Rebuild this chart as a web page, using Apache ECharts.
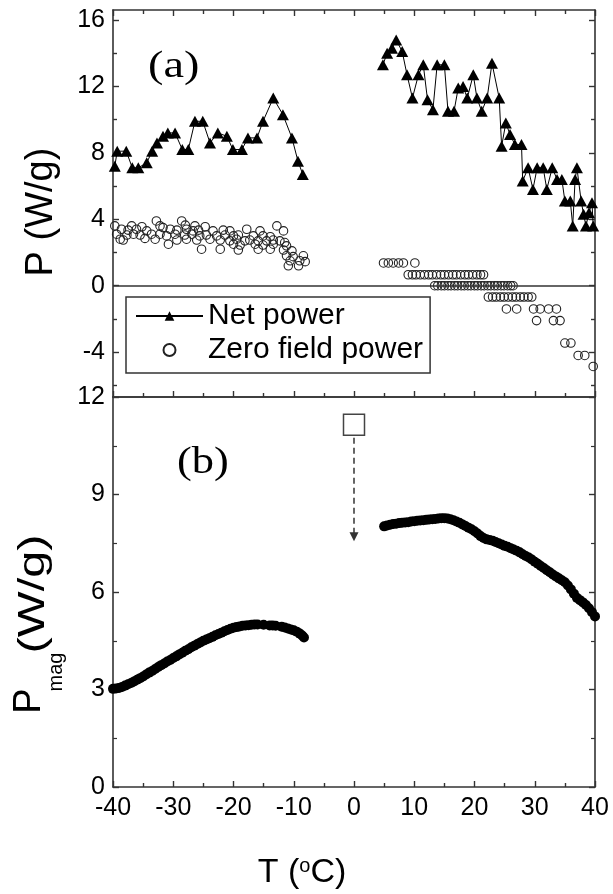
<!DOCTYPE html>
<html><head><meta charset="utf-8">
<script src="https://cdn.jsdelivr.net/npm/echarts@6/dist/echarts.min.js"></script>
<style>html,body{margin:0;padding:0;background:#fff}#c{width:613px;height:894px}</style>
</head><body><div id="c"></div>
<script>
// ---------- data ----------
const xMajorTicks = [-40, -30, -20, -10, 0, 10, 20, 30, 40];
const xMinorTicks = [-35, -25, -15, -5, 5, 15, 25, 35];
const aMajorTicks = [-4, 0, 4, 8, 12, 16];
const aMinorTicks = [-6, -2, 2, 6, 10, 14];

const netT1 = [-39.7,-39.3,-37.8,-36.8,-35.8,-34.4,-33.5,-32.7,-31.7,-30.9,-29.7,-28.5,-27.5,-26.4,-25.1,-23.9,-22.6,-21.1,-20.1,-18.6,-17.6,-16.1,-15.1,-13.4,-11.8,-10.3,-9.3,-8.5];
const netP1 = [7.2,8.1,8.1,7.1,7.1,7.4,8.1,8.6,9.0,9.2,9.2,8.2,8.2,9.9,9.9,8.6,9.2,9.0,8.2,8.2,8.9,8.9,9.9,11.3,10.3,8.9,7.5,6.7];
const netT2 = [4.8,5.5,6.3,7.0,8.0,8.8,9.7,10.7,11.5,12.2,13.1,13.8,15.0,15.6,16.6,17.3,18.1,18.8,19.8,20.4,21.2,22.1,22.9,24.1,24.5,25.2,25.9,26.7,27.8,28.0,28.9,29.7,30.4,31.4,32.0,32.9,33.7,34.5,35.0,35.9,36.3,36.7,37.0,37.7,38.1,38.5,39.0,39.5,39.7];
const netP2 = [13.3,14.0,14.3,14.8,14.1,12.7,11.3,12.7,13.3,11.2,10.6,13.3,13.3,10.5,10.5,11.9,12.0,11.3,12.7,11.3,10.5,11.3,13.4,11.3,8.4,9.8,9.1,8.5,8.5,6.3,7.1,5.8,7.1,7.1,5.8,7.1,6.4,6.4,5.1,5.1,3.6,6.4,7.1,5.1,4.3,3.6,4.4,5.0,3.6];

const zfT1 = [-32.8,-28.6,-39.7,-36.9,-35.2,-32.2,-31.7,-28.0,-26.4,-24.7,-12.8,
  -38.6,-37.5,-36.1,-34.4,-30.5,-29.4,-27.8,-26.7,-25.8,-23.4,-21.7,-20.6,-17.8,-15.6,-11.7,
  -39.4,-37.7,-36.6,-35.5,-33.6,-32.2,-31.1,-29.7,-28.1,-26.9,-25.6,-24.5,-22.8,-21.4,-20.0,-19.2,-16.7,-15.1,-13.9,
  -38.8,-38.3,-34.7,-33.0,-29.4,-27.8,-26.1,-23.9,-22.2,-20.6,-19.5,-18.1,-17.3,-15.9,-14.5,-13.4,-12.3,-11.5,
  -30.8,-20.0,-18.9,-16.4,-15.1,-13.4,-11.2,
  -25.3,-22.2,-19.2,-15.9,-13.9,-11.7,-10.3,
  -11.2,-10.1,-8.4,-10.6,-9.0,-8.1,-10.9,-9.2];
const zfP1 = [3.9,3.9,3.6,3.6,3.55,3.6,3.5,3.65,3.6,3.55,3.6,
  3.4,3.35,3.4,3.3,3.4,3.35,3.4,3.3,3.35,3.3,3.35,3.3,3.4,3.3,3.3,
  3.1,3.05,3.1,3.05,3.1,3.1,3.0,3.1,3.05,3.1,3.0,3.05,3.0,3.05,3.0,3.05,3.0,3.0,2.95,
  2.8,2.75,2.85,2.8,2.75,2.8,2.75,2.8,2.75,2.7,2.8,2.7,2.75,2.7,2.7,2.75,2.7,2.6,
  2.5,2.5,2.45,2.5,2.45,2.5,2.4,
  2.2,2.2,2.15,2.2,2.2,2.15,2.1,
  1.8,1.75,1.8,1.5,1.5,1.45,1.2,1.2];
const zfT2 = [4.9,5.7,6.5,7.4,8.2,10.1,
  9.0,9.7,10.3,11.0,11.7,12.4,13.0,13.7,14.4,15.0,15.7,16.4,17.0,17.7,18.4,19.0,19.7,20.4,21.0,21.5,
  13.4,13.9,14.5,15.0,15.6,16.1,16.7,17.2,17.8,18.3,18.9,19.4,20.0,20.5,21.1,21.6,22.2,22.7,23.3,23.8,24.4,24.9,25.5,26.0,26.4,
  22.3,23.0,23.6,24.3,24.9,25.6,26.3,26.9,27.6,28.2,28.9,29.5,
  25.3,27.0,29.8,30.9,32.3,33.6,
  30.3,33.1,34.2,35.0,36.0,37.2,38.3,39.7];
const zfP2 = [1.37,1.37,1.37,1.37,1.37,1.37,
  0.66,0.66,0.66,0.66,0.66,0.66,0.66,0.66,0.66,0.66,0.66,0.66,0.66,0.66,0.66,0.66,0.66,0.66,0.66,0.66,
  0,0,0,0,0,0,0,0,0,0,0,0,0,0,0,0,0,0,0,0,0,0,0,0,0,
  -0.68,-0.68,-0.68,-0.68,-0.68,-0.68,-0.68,-0.68,-0.68,-0.68,-0.68,-0.68,
  -1.4,-1.4,-1.4,-1.4,-1.4,-1.4,
  -2.1,-2.1,-2.1,-3.45,-3.45,-4.2,-4.2,-4.86];

const magT1 = [-40,-39.5,-39,-38.5,-38,-37.5,-37,-36.5,-36,-35.5,-35,-34.5,-34,-33.5,-33,-32.5,-32,-31.5,-31,-30.5,-30,-29.5,-29,-28.5,-28,-27.5,-27,-26.5,-26,-25.5,-25,-24.5,-24,-23.5,-23,-22.5,-22,-21.5,-21,-20.5,-20,-19.5,-19,-18.5,-18,-17.5,-17,-16.5,-16,-15,-14,-13.5,-13,-12,-11.5,-11,-10.5,-10,-9.5,-9,-8.6,-8.3];
const magP1 = [3.02,3.03,3.05,3.08,3.12,3.16,3.2,3.25,3.3,3.35,3.4,3.46,3.52,3.57,3.63,3.69,3.75,3.8,3.86,3.91,3.97,4.02,4.08,4.13,4.19,4.24,4.3,4.35,4.4,4.45,4.5,4.54,4.58,4.62,4.67,4.71,4.75,4.79,4.83,4.87,4.9,4.92,4.94,4.96,4.97,4.98,4.99,5.0,5.0,4.99,4.97,4.97,4.96,4.93,4.91,4.88,4.85,4.82,4.78,4.72,4.66,4.6];
const magT2 = [5,5.5,6,6.5,7,7.5,8,8.5,9,9.5,10,10.5,11,11.5,12,12.5,13,13.5,14,14.5,15,15.5,16,16.5,17,17.5,18,18.5,19,19.5,20,20.5,21,21.5,22,22.5,23,23.5,24,24.5,25,25.5,26,26.5,27,27.5,28,28.5,29,29.5,30,30.5,31,31.5,32,32.5,33,33.5,34,34.5,35,35.5,36,36.5,37,37.5,38,38.5,39,39.5,40];
const magP2 = [8.02,8.05,8.07,8.09,8.1,8.12,8.13,8.14,8.15,8.17,8.18,8.19,8.2,8.21,8.22,8.23,8.24,8.25,8.26,8.27,8.27,8.26,8.24,8.21,8.17,8.13,8.08,8.03,7.98,7.93,7.87,7.8,7.72,7.66,7.62,7.6,7.58,7.54,7.5,7.46,7.42,7.39,7.35,7.31,7.27,7.22,7.16,7.11,7.06,7.0,6.93,6.87,6.8,6.74,6.67,6.61,6.54,6.48,6.42,6.36,6.3,6.2,6.08,5.95,5.82,5.75,5.68,5.6,5.5,5.38,5.25];

const squareT = [0], squareP = [11.15];
const arrowFrom = [0, 10.75], arrowTo = [0, 7.7];

const zip = (a, b) => a.map((v, i) => [v, b[i]]);

// ---------- chart ----------
const AX = '#333';
const FONT = '"Liberation Sans", Arial, sans-serif';
const chart = echarts.init(document.getElementById('c'), null, {renderer: 'canvas'});

function axLine(show) { return {show: show, onZero: false, lineStyle: {color: AX, width: 1.6}}; }
function xAx(grid, pos, vals, len, labels, line) {
  return {
    type: 'value', gridIndex: grid, position: pos, min: -40, max: 40,
    axisLine: axLine(line),
    axisTick: {show: vals.length > 0, inside: true, length: len, customValues: vals.length ? vals : undefined,
      lineStyle: {color: AX, width: 1.4}},
    axisLabel: {show: labels, customValues: xMajorTicks, fontSize: 25, color: '#000', fontFamily: FONT, margin: 9},
    splitLine: {show: false}
  };
}
function yA(pos, vals, len, labels, line) {
  return {
    type: 'value', gridIndex: 0, position: pos, min: -6.7, max: 16.6,
    axisLine: axLine(line),
    axisTick: {show: true, inside: true, length: len, customValues: vals, lineStyle: {color: AX, width: 1.4}},
    axisLabel: {show: labels, customValues: vals, fontSize: 25, color: '#000', fontFamily: FONT, margin: 8},
    splitLine: {show: false}
  };
}
function yB(pos, labels) {
  return {
    type: 'value', gridIndex: 1, position: pos, min: 0, max: 12, interval: 3,
    axisLine: axLine(true),
    axisTick: {show: true, inside: true, length: 6, lineStyle: {color: AX, width: 1.4}},
    minorTick: {show: true, splitNumber: 2, length: 4, lineStyle: {color: AX, width: 1.2}},
    axisLabel: {show: labels, fontSize: 25, color: '#000', fontFamily: FONT, margin: 8},
    splitLine: {show: false}
  };
}

const option = {
  backgroundColor: '#fff',
  animation: false,
  grid: [
    {left: 113, top: 10, width: 482, height: 387},
    {left: 113, top: 397, width: 482, height: 390}
  ],
  xAxis: [
    xAx(0, 'bottom', xMajorTicks, 6, false, true),
    xAx(0, 'bottom', xMinorTicks, 4, false, false),
    xAx(0, 'top', xMajorTicks, 6, false, true),
    xAx(0, 'top', xMinorTicks, 4, false, false),
    xAx(1, 'bottom', xMajorTicks, 6, true, true),
    xAx(1, 'bottom', xMinorTicks, 4, false, false),
    xAx(1, 'top', [], 0, false, true)
  ],
  yAxis: [
    yA('left', aMajorTicks, 6, true, true),
    yA('left', aMinorTicks, 4, false, false),
    yA('right', aMajorTicks, 6, false, true),
    yA('right', aMinorTicks, 4, false, false),
    yB('left', true),
    yB('right', false)
  ],
  legend: {
    orient: 'vertical', left: 126, top: 297,
    padding: [4, 7, 8, 9], itemGap: 4, itemWidth: 67, itemHeight: 12,
    borderColor: AX, borderWidth: 1.5, selectedMode: false,
    textStyle: {fontSize: 30, color: '#000', fontFamily: FONT, lineHeight: 30},
    data: ['Net power', 'Zero field power']
  },
  series: [
    {name: 'Net power', type: 'line', xAxisIndex: 0, yAxisIndex: 0, data: zip(netT1, netP1),
      symbol: 'triangle', symbolSize: [12, 11], itemStyle: {color: '#000', opacity: 1},
      lineStyle: {color: '#000', width: 1}, z: 3},
    {name: 'Net power', type: 'line', xAxisIndex: 0, yAxisIndex: 0, data: zip(netT2, netP2),
      symbol: 'triangle', symbolSize: [12, 11], itemStyle: {color: '#000', opacity: 1},
      lineStyle: {color: '#000', width: 1}, z: 3},
    {name: 'Zero field power', type: 'scatter', xAxisIndex: 0, yAxisIndex: 0,
      data: zip(zfT1, zfP1).concat(zip(zfT2, zfP2)),
      symbol: 'circle', symbolSize: 8.5,
      itemStyle: {color: 'rgba(255,255,255,0)', borderColor: '#222', borderWidth: 1.1, opacity: 1},
      markLine: {silent: true, symbol: 'none', label: {show: false},
        lineStyle: {color: AX, type: 'solid', width: 1.6},
        data: [{yAxis: 0}]}, z: 2},
    {name: 'mag1', type: 'scatter', xAxisIndex: 4, yAxisIndex: 4, data: zip(magT1, magP1),
      symbol: 'circle', symbolSize: 10, itemStyle: {color: '#000', opacity: 1}},
    {name: 'mag2', type: 'scatter', xAxisIndex: 4, yAxisIndex: 4, data: zip(magT2, magP2),
      symbol: 'circle', symbolSize: 10, itemStyle: {color: '#000', opacity: 1}},
    {name: 'square', type: 'scatter', xAxisIndex: 4, yAxisIndex: 4, data: zip(squareT, squareP),
      symbol: 'rect', symbolSize: 21,
      itemStyle: {color: 'rgba(255,255,255,0)', borderColor: '#444', borderWidth: 1.5, opacity: 1},
      markLine: {silent: true, symbol: ['none', 'triangle'], symbolSize: 9, symbolRotate: 180,
        label: {show: false},
        itemStyle: {color: AX},
        lineStyle: {color: AX, type: [6, 4], width: 1.5, opacity: 1},
        data: [[{coord: arrowFrom}, {coord: arrowTo}]]}}
  ],
  graphic: [
    {type: 'text', x: 148, y: 49, scaleX: 1.25, style: {text: '(a)', font: '37px "Liberation Serif", "Times New Roman", serif', fill: '#000'}},
    {type: 'text', x: 177, y: 445, scaleX: 1.2, style: {text: '(b)', font: '37px "Liberation Serif", "Times New Roman", serif', fill: '#000'}},
    {type: 'text', x: 42, y: 212, rotation: Math.PI / 2,
      style: {text: 'P (W/g)', font: '38px ' + FONT, fill: '#000', align: 'center', verticalAlign: 'middle'}},
    {type: 'text', x: 30, y: 701, rotation: Math.PI / 2,
      style: {text: 'P', font: '38px ' + FONT, fill: '#000', align: 'center', verticalAlign: 'middle'}},
    {type: 'text', x: 56, y: 672, rotation: Math.PI / 2,
      style: {text: 'mag', font: '20px ' + FONT, fill: '#000', align: 'center', verticalAlign: 'middle'}},
    {type: 'text', x: 34, y: 594, rotation: Math.PI / 2, scaleX: 1.35,
      style: {text: '(W/g)', font: '36px ' + FONT, fill: '#000', align: 'center', verticalAlign: 'middle'}},
    {type: 'text', x: 302, y: 873,
      style: {text: 'T ({s|o}C)', font: '34px ' + FONT, fill: '#000', align: 'center', verticalAlign: 'middle',
        rich: {s: {fontSize: 20, fontFamily: FONT, verticalAlign: 'top', padding: [0, 0, 14, 0]}}}}
  ]
};
chart.setOption(option);
</script>
</body></html>
